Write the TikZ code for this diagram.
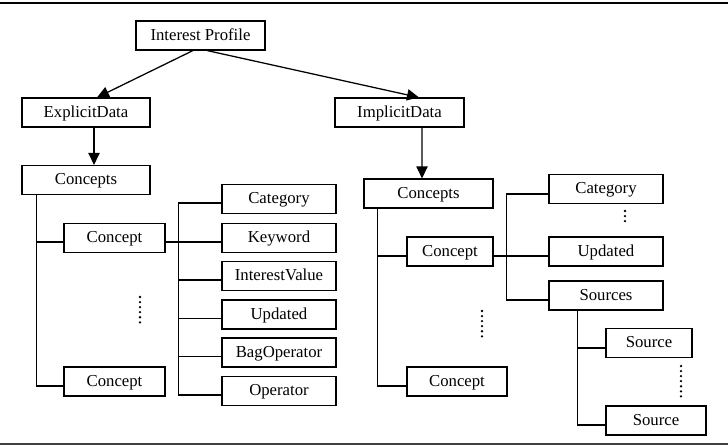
\documentclass[tikz,border=0pt]{standalone}
\usepackage{fontspec}
\setmainfont{Liberation Serif}
\usetikzlibrary{arrows.meta,calc}

\begin{document}
\begin{tikzpicture}[
    x=0.025cm, y=-0.025cm,
    box/.style={draw, line width=0.9pt, inner sep=0pt, minimum width=#1,
                minimum height=0.72cm, text height=0.66em, text depth=0pt,
                font=\rmfamily\fontsize{11.9}{14}\selectfont},
    link/.style={-{Triangle[length=0.3cm,width=0.28cm]}, line width=0.9pt},
    tree/.style={line width=0.9pt},
    dots/.style={line width=1.8pt, line cap=round, dash pattern=on 0pt off 3.6pt},
]
\useasboundingbox (0,0) rectangle (728,446);

% Rules
\draw[line width=1.2pt] (0,3) -- (728,3);
\draw[line width=2pt, black!75] (0,444) -- (728,444);

% Root and the two data branches
\node[box=3.225cm] (profile)  at (200.5,35.5) {Interest Profile};
\node[box=3.2cm]   (explicit) at (86,112.5)   {ExplicitData};
\node[box=3.225cm] (implicit) at (399.5,112.5) {ImplicitData};

\draw[link] ($(profile.south)+(-7.5,0)$) -- ($(explicit.north)+(11,0)$);
\draw[link] ($(profile.south)+(6.5,0)$) -- ($(implicit.north)+(19.5,0)$);

% Explicit side
\node[box=3.2cm]   (conceptsL) at (86,180)    {Concepts};
\node[box=2.525cm] (conceptL1) at (114.5,238) {Concept};
\node[box=2.525cm] (conceptL2) at (114.5,381.5) {Concept};
\draw[link] ($(explicit.south)+(8,0)$) -- ($(conceptsL.north)+(8,0)$);

\foreach \name/\y/\txt in {catL/199/Category, keyword/238/Keyword,
    interest/276/InterestValue, updatedL/314.5/Updated,
    bag/352.5/BagOperator, operator/391/Operator}
{
    \node[box=2.85cm] (\name) at (279,\y) {\txt};
}

\draw[tree] ($(conceptsL.south west)+(15,0)$) |- ($(conceptL2.west)+(0,4.5)$);
\draw[tree] ($(conceptsL.south west)+(15,0)$) |- ($(conceptL1.west)+(0,4)$);
\draw[tree] ($(conceptL1.east)+(0,4)$) -- ($(keyword.west)+(0,4)$);
\draw[tree] ($(catL.west)+(0,4)$) -- ++(-43,0) |- ($(operator.west)+(0,4)$);
\foreach \name in {interest, updatedL, bag} {
    \draw[tree] ($(\name.west)+(0,4)$) -- ++(-43,0);
}
\draw[dots] (140,297) -- (140,327);

% Implicit side
\node[box=3.225cm] (conceptsR) at (428.5,193.5) {Concepts};
\node[box=2.15cm]  (conceptR1) at (450,251.5)   {Concept};
\node[box=2.5cm]   (conceptR2) at (457,381.5)   {Concept};
\draw[link] ($(implicit.south)+(22.5,0)$) -- ($(conceptsR.north)+(-6.5,0)$);

\node[box=2.85cm] (catR)     at (606,189)   {Category};
\node[box=2.85cm] (updatedR) at (606,251.5) {Updated};
\node[box=2.85cm] (sources)  at (606,295.5) {Sources};
\node[box=2.15cm] (source1)  at (649,343)   {Source};
\node[box=2.5cm]  (source2)  at (656,420.5) {Source};

\draw[tree] ($(conceptsR.south west)+(14,0)$) |- ($(conceptR2.west)+(0,4.5)$);
\draw[tree] ($(conceptsR.south west)+(14,0)$) |- ($(conceptR1.west)+(0,4.5)$);
\draw[tree] ($(conceptR1.east)+(0,4.5)$) -- ($(updatedR.west)+(0,4.5)$);
\draw[tree] ($(catR.west)+(0,5)$) -- ++(-42,0) |- ($(sources.west)+(0,4.5)$);
\draw[tree] ($(sources.south west)+(29,0)$) |- ($(source2.west)+(0,4.5)$);
\draw[tree] ($(sources.south west)+(29,0)$) |- ($(source1.west)+(0,5)$);

\draw[dots] (625,211) -- (625,223);
\draw[dots] (482,311) -- (482,341);
\draw[dots] (681,366) -- (681,398);

\end{tikzpicture}
\end{document}
